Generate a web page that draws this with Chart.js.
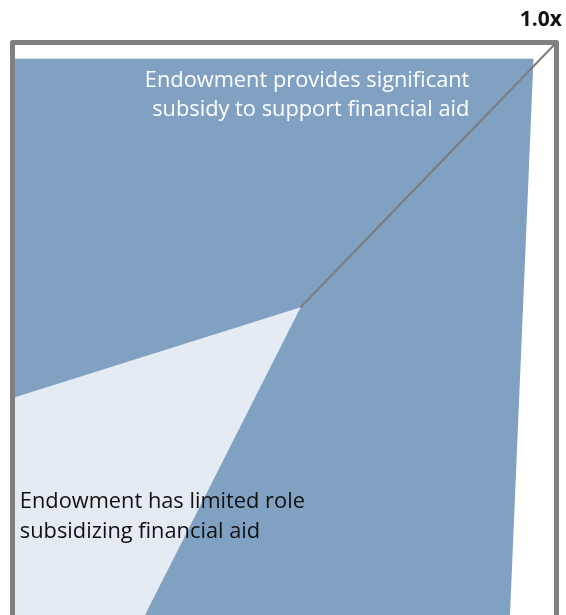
<!DOCTYPE html>
<html>
<head>
<meta charset="utf-8">
<script src="https://cdn.jsdelivr.net/npm/chart.js@4/dist/chart.umd.min.js"></script>
<style>
  html, body { margin: 0; padding: 0; background: #fff; overflow: hidden; }
  #wrap { width: 566px; height: 660px; }
</style>
</head>
<body>
<div id="wrap"><canvas id="c" width="566" height="660"></canvas></div>
<script>
// Region outlines in plot units (0..1 on both axes)
const subsidyZoneX = [0, 0.962, 0.916, 0, 0];
const subsidyZoneY = [0.977, 0.977, 0, 0, 0.977];
const limitedZoneX = [0, 0.53, 0.213, 0, 0];
const limitedZoneY = [0.413, 0.563, 0, 0, 0.413];
const ratioLineX = [0.53, 1.0];
const ratioLineY = [0.563, 1.0];
const ratioLabel = "1.0x";
const subsidyText = ["Endowment provides significant", "subsidy to support financial aid"];
const limitedText = ["Endowment has limited role", "subsidizing financial aid"];

const toPoints = (xs, ys) => xs.map((x, i) => ({ x: x, y: ys[i] }));

const labelsPlugin = {
  id: 'regionLabels',
  afterDraw(chart) {
    const { ctx, chartArea, scales } = chart;
    const xs = scales.x, ys = scales.y;
    ctx.save();
    // frame around the plot
    ctx.strokeStyle = '#808080';
    ctx.lineWidth = 5;
    ctx.lineJoin = 'round';
    ctx.strokeRect(chartArea.left - 2.5, chartArea.top - 2.5,
                   chartArea.right - chartArea.left + 5, chartArea.bottom - chartArea.top + 5);

    // upper-right region text
    ctx.font = '21.8px "Open Sans", sans-serif';
    ctx.fillStyle = '#ffffff';
    ctx.textAlign = 'right';
    ctx.textBaseline = 'middle';
    const tx = xs.getPixelForValue(0.843);
    const ty = ys.getPixelForValue(0.94);
    ctx.fillText(subsidyText[0], tx, ty);
    ctx.fillText(subsidyText[1], tx, ty + 29);

    // lower-left region text
    ctx.fillStyle = '#111111';
    ctx.textAlign = 'left';
    const bx = xs.getPixelForValue(0.009);
    const by = ys.getPixelForValue(0.239);
    ctx.fillText(limitedText[0], bx, by);
    ctx.fillText(limitedText[1], bx, by + 30);

    // ratio line label above its end
    ctx.font = 'bold 21px "Open Sans", sans-serif';
    ctx.textAlign = 'right';
    const lx = xs.getPixelForValue(ratioLineX[1]);
    const ly = ys.getPixelForValue(ratioLineY[1]);
    ctx.fillText(ratioLabel, lx + 8, ly - 25);
    ctx.restore();
  }
};

new Chart(document.getElementById('c'), {
  type: 'scatter',
  data: {
    datasets: [
      {
        data: toPoints(subsidyZoneX, subsidyZoneY), order: 3,
        showLine: true, fill: 'shape',
        backgroundColor: '#81a1c3', borderWidth: 0, pointRadius: 0, tension: 0
      },
      {
        data: toPoints(limitedZoneX, limitedZoneY), order: 2,
        showLine: true, fill: 'shape',
        backgroundColor: '#e4ebf3', borderWidth: 0, pointRadius: 0, tension: 0
      },
      {
        data: toPoints(ratioLineX, ratioLineY), order: 1,
        showLine: true, fill: false,
        borderColor: '#7b7b7b', borderWidth: 2, pointRadius: 0, tension: 0
      }
    ]
  },
  options: {
    responsive: false,
    animation: false,
    layout: { padding: { left: 15, right: 12, top: 45, bottom: 15 } },
    plugins: { legend: { display: false }, tooltip: { enabled: false } },
    scales: {
      x: { type: 'linear', min: 0, max: 1, display: false },
      y: { type: 'linear', min: 0, max: 1, display: false }
    }
  },
  plugins: [labelsPlugin]
});
</script>
</body>
</html>
